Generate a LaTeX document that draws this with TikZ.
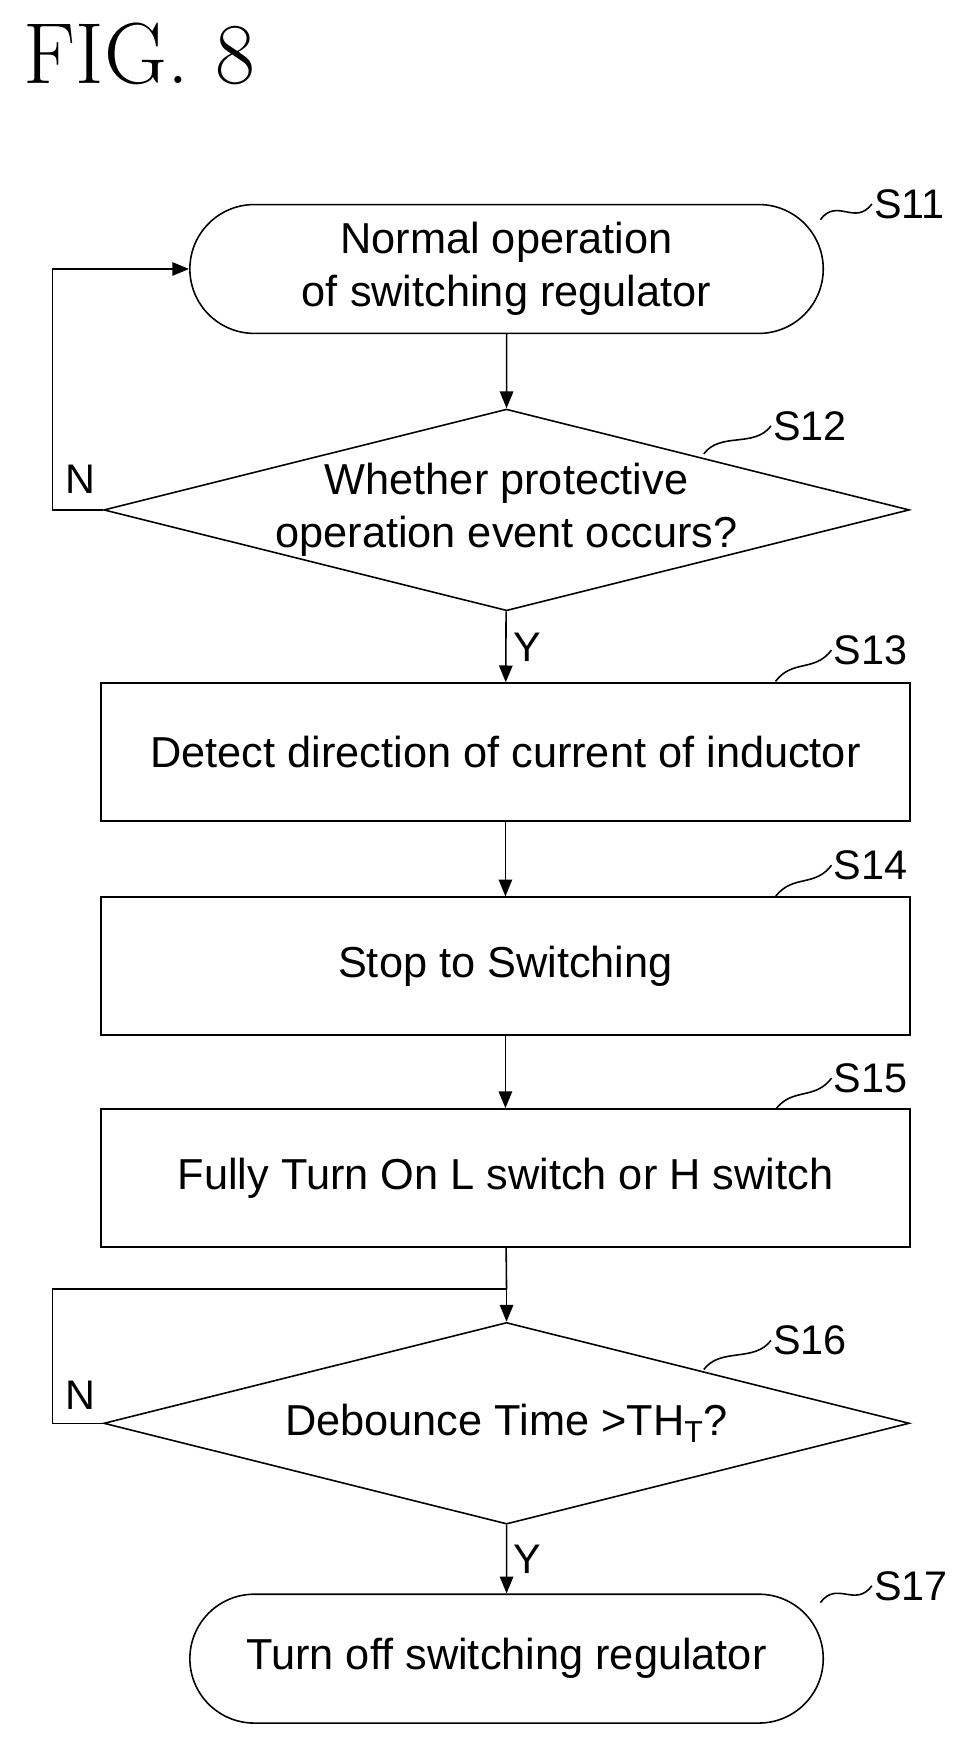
\documentclass[tikz,border=0pt]{standalone}
\usepackage{fontspec}
\setsansfont{Liberation Sans}
\usetikzlibrary{shapes.geometric,shapes.misc,arrows.meta}
\tikzset{
  box/.style={draw, thick, rectangle, minimum width=14.44cm, minimum height=2.46cm, font=\sffamily\fontsize{22}{27}\selectfont},
  term/.style={draw, thick, rounded rectangle, minimum width=11.54cm, minimum height=2.3cm, align=center, font=\sffamily\fontsize{22}{27}\selectfont},
  dec/.style={draw, thick, diamond, aspect=4, minimum width=14.38cm, minimum height=3.6cm, inner sep=-10pt, align=center, font=\sffamily\fontsize{22}{27}\selectfont},
  steplbl/.style={font=\sffamily\fontsize{21}{24}\selectfont, anchor=west, inner sep=1pt},
  flow/.style={-{Triangle[length=3mm,width=2.4mm]}, thick}
}
\begin{document}
\begin{tikzpicture}[x=0.02cm,y=-0.02cm]
  \useasboundingbox (0,0) rectangle (860,1566);
  \node[anchor=west, font=\fontsize{44}{48}\selectfont] (fig) at (15,48) {FIG. 8};

  % steps
  \node[term] (s11) at (452,240) {Normal operation\\of switching regulator};
  \node[dec] (s12) at (452,455) {Whether protective\\operation event occurs?};
  \node[box] (s13) at (451,671) {Detect direction of current of inductor};
  \node[box] (s14) at (451,862) {Stop to Switching};
  \node[box] (s15) at (451,1051) {Fully Turn On L switch or H switch};
  \node[dec] (s16) at (452,1270) {Debounce Time {>}TH\textsubscript{T}?};
  \node[term] (s17) at (452,1480) {Turn off switching regulator};

  % step labels
  \foreach \n/\x/\y in {11/778/182, 12/688/380, 13/742/580, 14/742/772, 15/742/962, 16/688/1196, 17/778/1415}
    \node[steplbl] (l\n) at (\x,\y) {S\n};
  \foreach \n/\x/\y in {11/732/196, 12/628/405, 13/692/608, 14/692/800, 15/692/990, 16/628/1222, 17/732/1430}
    \draw[thick] (\x,\y) .. controls ++(15,-20) and ++(-15,20) .. (l\n.west);

  % connectors
  \draw[flow] (s11) -- (s12);
  \draw[flow] (s12) -- node[right, font=\sffamily\fontsize{21}{24}\selectfont] {Y} (s13);
  \draw[flow] (s13) -- (s14);
  \draw[flow] (s14) -- (s15);
  \coordinate (join) at (452,1150);
  \draw[thick] (s15) -- (join);
  \draw[flow] (join) -- (s16);
  \draw[flow] (s16) -- node[right, font=\sffamily\fontsize{21}{24}\selectfont] {Y} (s17);
  \draw[flow] (s12.west) -- ++(-45,0) |- (s11.west);
  \draw[thick] (s16.west) -- ++(-45,0) |- (join);
  \node[font=\sffamily\fontsize{21}{24}\selectfont] (n1) at (72,428) {N};
  \node[font=\sffamily\fontsize{21}{24}\selectfont] (n2) at (72,1245) {N};
\end{tikzpicture}
\end{document}
